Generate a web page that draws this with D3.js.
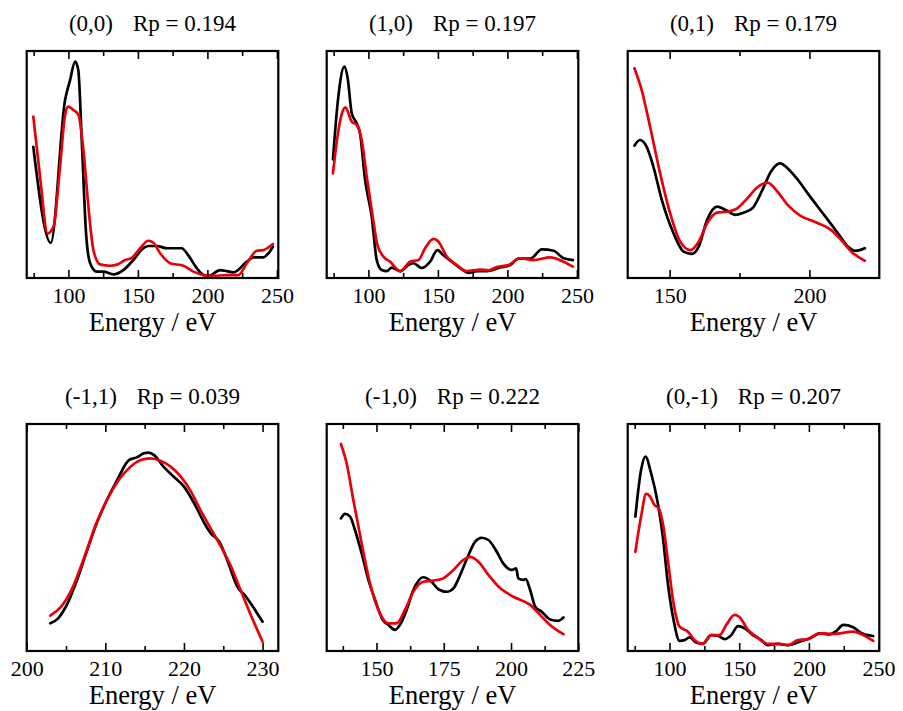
<!DOCTYPE html>
<html>
<head>
<meta charset="utf-8">
<script src="https://cdnjs.cloudflare.com/ajax/libs/d3/7.8.5/d3.min.js"></script>
<style>
  html, body { margin: 0; padding: 0; background: #fff; }
  svg { display: block; }
  text { font-family: "Liberation Serif", "Times New Roman", serif; fill: #000; }
</style>
</head>
<body>
<svg id="chart" width="903" height="711"></svg>
<script>
// ---------- DATA ----------
const panelNames = ["(0,0)", "(1,0)", "(0,1)", "(-1,1)", "(-1,0)", "(0,-1)"];
const rpValues = ["0.194", "0.197", "0.179", "0.039", "0.222", "0.207"];
const xDomains = [[70, 251], [70, 251], [135, 225], [200, 232], [131.5, 225], [70, 250.5]];
const majorTicks = [
  [100, 150, 200, 250], [100, 150, 200, 250], [150, 200],
  [200, 210, 220, 230], [150, 175, 200, 225], [100, 150, 200, 250]
];
const minorTicks = [
  [75, 125, 175, 225], [75, 125, 175, 225], [175],
  [205, 215, 225], [137.5, 162.5, 187.5, 212.5], [75, 125, 175, 225]
];
const xLabel = "Energy / eV";

// (0,0)
const exp00E = [74.75,87.3,97.6,101.2,104.8,107.1,109.6,112.7,115.6,120.4,125.2,132.4,139.5,146.7,153.9,157.5,163.6,170.8,181.6,185.2,192.4,197.2,200.8,209.2,214,218.7,228.4,233.1,240.3,243.9,247.1];
const exp00I = [0.578,0.155,0.784,0.872,0.953,0.916,0.608,0.198,0.066,0.028,0.028,0.016,0.035,0.079,0.131,0.141,0.141,0.131,0.131,0.109,0.043,0.013,0.009,0.035,0.030,0.025,0.072,0.091,0.091,0.109,0.138];
const th00E = [74.75,79.6,85.1,89.2,94,97.6,100,103.6,107.2,110.8,114.4,118,122.8,130,135.4,140.8,145.6,151.6,157.5,161.1,166,173.2,182.8,190,197.2,204.4,214,222.3,228.4,235.6,240.4,243.9,247.1];
const th00I = [0.711,0.446,0.197,0.226,0.490,0.718,0.755,0.740,0.718,0.564,0.314,0.123,0.060,0.054,0.060,0.079,0.089,0.131,0.164,0.155,0.109,0.065,0.054,0.028,0.013,0.009,0.013,0.013,0.065,0.120,0.123,0.135,0.150];

// (1,0)
const exp10E = [74.5,78.1,82.7,85.1,88,91.6,94,97.6,102.4,106,109.6,113.2,116.8,122.8,128.8,132.4,138.4,144.4,149.6,154,160,166,172,178,185.2,194.8,202,208,216.4,224.8,233.2,240.4,247.1];
const exp10I = [0.523,0.784,0.931,0.880,0.726,0.681,0.637,0.432,0.270,0.079,0.035,0.030,0.046,0.030,0.057,0.065,0.044,0.072,0.123,0.100,0.072,0.044,0.023,0.030,0.030,0.046,0.057,0.085,0.085,0.126,0.120,0.087,0.079];
const th10E = [74.5,78.1,81,83.4,88,91.6,95.2,98.8,103.1,106.5,110.8,115.6,122.8,130,136,140.8,146.8,150.4,156.4,163.6,170.8,180.4,186.4,192.4,200.8,209.2,218.8,230.8,240.4,247.1];
const th10I = [0.461,0.637,0.726,0.752,0.689,0.674,0.608,0.446,0.270,0.145,0.094,0.072,0.030,0.072,0.079,0.131,0.172,0.160,0.094,0.057,0.030,0.037,0.034,0.048,0.057,0.087,0.079,0.091,0.072,0.050];

// (0,1)
const exp01E = [137.4,139.4,141.8,144.2,147.2,151.4,155,158,160.4,163.4,167,170,173.6,176.6,179.6,183.2,186.2,189.5,192.8,196.4,199.4,203,206.6,210.2,213.8,216.2,218,219.8];
const exp01I = [0.583,0.608,0.578,0.490,0.344,0.197,0.116,0.106,0.138,0.256,0.314,0.300,0.278,0.289,0.307,0.388,0.468,0.505,0.476,0.424,0.373,0.314,0.256,0.197,0.138,0.120,0.123,0.131];
const th01E = [137.4,140,143,146.6,150.2,153.8,157.4,160.4,163.4,167,170.6,174.2,177.8,181.4,185,188.6,192.2,197,201.8,207.8,211.4,215,219.8];
const th01I = [0.924,0.828,0.667,0.461,0.285,0.160,0.123,0.160,0.241,0.288,0.292,0.307,0.351,0.400,0.420,0.380,0.322,0.273,0.248,0.211,0.167,0.116,0.076];

// (-1,1)
const expM11E = [203,204,205.1,206.4,207.7,208.9,210.2,211.5,213,214,214.9,215.5,216.2,217.4,218.7,220,221.3,222.6,223.4,224.5,225.5,226.8,227.9,228.9,230];
const expM11I = [0.122,0.144,0.203,0.313,0.445,0.563,0.665,0.753,0.841,0.853,0.871,0.874,0.863,0.812,0.768,0.724,0.651,0.563,0.519,0.481,0.401,0.283,0.239,0.188,0.129];
const thM11E = [203,204.3,205.7,207.2,208.7,210.2,211.7,213.2,214.5,215.7,217,218.3,219.6,220.9,222.1,223.4,224.7,226,227.2,228.5,230];
const thM11I = [0.156,0.192,0.269,0.401,0.548,0.665,0.753,0.812,0.841,0.849,0.838,0.812,0.768,0.702,0.621,0.540,0.460,0.371,0.269,0.159,0.041];

// (-1,0)
const expM10E = [136.8,138.3,140.2,142,144.5,147,149.5,152.3,154.4,156.9,158.7,161.2,163.7,167.4,170.5,173,176.1,178.6,181.1,184.2,186.6,189.1,191.6,194.7,197.1,200.3,201.9,202.7,204.6,205.5,207.1,209,211.4,214.5,217.6,219.5];
const expM10I = [0.584,0.604,0.592,0.533,0.430,0.313,0.225,0.137,0.115,0.093,0.115,0.181,0.269,0.325,0.305,0.272,0.261,0.276,0.335,0.423,0.481,0.499,0.489,0.437,0.386,0.357,0.364,0.320,0.313,0.317,0.269,0.195,0.173,0.139,0.133,0.148];
const thM10E = [136.8,138.9,141.4,144.5,147.6,151.3,154.4,157.5,160.6,163.7,167.4,171.1,174.8,178.6,182.3,184.8,187.9,191.6,196,200.9,207.1,210.8,214.5,219.5];
const thM10I = [0.912,0.827,0.665,0.474,0.298,0.166,0.122,0.122,0.181,0.261,0.305,0.310,0.320,0.357,0.401,0.415,0.393,0.335,0.276,0.239,0.203,0.159,0.115,0.074];

// (0,-1)
const exp0M1E = [75.5,79.6,82.7,86.8,91.6,95.2,98.8,102.9,107.2,110.8,114.4,119.2,123.9,129.9,134.7,139.5,144.3,149.1,153.9,159.9,165.9,170.6,177.8,185,193.4,200.6,207.8,215,219.8,224.6,231.8,237.8,246.1];
const exp0M1I = [0.592,0.797,0.856,0.783,0.651,0.504,0.298,0.137,0.045,0.048,0.060,0.037,0.031,0.070,0.067,0.052,0.070,0.110,0.100,0.070,0.048,0.026,0.031,0.026,0.041,0.056,0.078,0.073,0.089,0.115,0.105,0.078,0.066];
const th0M1E = [75.5,79.6,83.2,86.1,89.2,92.3,95.6,98.8,102.9,107.2,113.2,118,123.4,129.9,135.9,140.7,146.7,150.3,156.3,162.3,170.6,179,185,192.2,199.4,207.8,217.4,231.8,239,246.1];
const th0M1I = [0.437,0.592,0.692,0.680,0.643,0.628,0.548,0.401,0.210,0.107,0.085,0.048,0.031,0.070,0.070,0.115,0.159,0.149,0.093,0.063,0.031,0.031,0.026,0.048,0.052,0.078,0.075,0.085,0.070,0.045];

const expE = [exp00E, exp10E, exp01E, expM11E, expM10E, exp0M1E];
const expI = [exp00I, exp10I, exp01I, expM11I, expM10I, exp0M1I];
const thE  = [th00E, th10E, th01E, thM11E, thM10E, th0M1E];
const thI  = [th00I, th10I, th01I, thM11I, thM10I, th0M1I];

// ---------- LAYOUT ----------
const colX = [[26.7, 278.3], [326.7, 578.3], [627.7, 879.3]];
const rowY = [[51, 278], [424, 651]];

const svg = d3.select("#chart");

panelNames.forEach((name, i) => {
  const c = i % 3, r = Math.floor(i / 3);
  const [x0, x1] = colX[c];
  const [y0, y1] = rowY[r];
  const x = d3.scaleLinear().domain(xDomains[i]).range([x0, x1]);
  const y = d3.scaleLinear().domain([0, 1]).range([y1, y0]);
  const g = svg.append("g");

  const clipId = "clip" + i;
  g.append("clipPath").attr("id", clipId).append("rect")
    .attr("x", x0).attr("y", y0).attr("width", x1 - x0).attr("height", y1 - y0);

  const line = d3.line().x(d => x(d[0])).y(d => y(d[1])).curve(d3.curveMonotoneX);
  const expData = expE[i].map((e, k) => [e, expI[i][k]]);
  const thData = thE[i].map((e, k) => [e, thI[i][k]]);

  const plot = g.append("g").attr("clip-path", `url(#${clipId})`);
  plot.append("path").datum(expData).attr("d", line)
    .attr("fill", "none").attr("stroke", "#000").attr("stroke-width", 2.7)
    .attr("stroke-linejoin", "round").attr("stroke-linecap", "round");
  plot.append("path").datum(thData).attr("d", line)
    .attr("fill", "none").attr("stroke", "#e8000b").attr("stroke-width", 2.7)
    .attr("stroke-linejoin", "round").attr("stroke-linecap", "round");

  // bottom axis: major (labelled) ticks
  const axB = g.append("g").attr("transform", `translate(0,${y1})`)
    .call(d3.axisBottom(x).tickValues(majorTicks[i]).tickSizeInner(-8).tickSizeOuter(0).tickPadding(9.5).tickFormat(d3.format("d")));
  axB.select(".domain").remove();
  axB.selectAll("line").attr("stroke", "#000").attr("stroke-width", 1.6);
  axB.selectAll("text").attr("font-size", 22).style("font-family", '"Liberation Serif", serif');
  // bottom minor
  const axBm = g.append("g").attr("transform", `translate(0,${y1})`)
    .call(d3.axisBottom(x).tickValues(minorTicks[i]).tickSizeInner(-5).tickSizeOuter(0).tickFormat(""));
  axBm.select(".domain").remove();
  axBm.selectAll("line").attr("stroke", "#000").attr("stroke-width", 1.6);
  // top axis major / minor
  const axT = g.append("g").attr("transform", `translate(0,${y0})`)
    .call(d3.axisTop(x).tickValues(majorTicks[i]).tickSizeInner(-8).tickSizeOuter(0).tickFormat(""));
  axT.select(".domain").remove();
  axT.selectAll("line").attr("stroke", "#000").attr("stroke-width", 1.6);
  const axTm = g.append("g").attr("transform", `translate(0,${y0})`)
    .call(d3.axisTop(x).tickValues(minorTicks[i]).tickSizeInner(-5).tickSizeOuter(0).tickFormat(""));
  axTm.select(".domain").remove();
  axTm.selectAll("line").attr("stroke", "#000").attr("stroke-width", 1.6);

  // frame
  g.append("rect").attr("x", x0).attr("y", y0).attr("width", x1 - x0).attr("height", y1 - y0)
    .attr("fill", "none").attr("stroke", "#000").attr("stroke-width", 2.2);

  // title
  const cx = (x0 + x1) / 2;
  const t = g.append("text").attr("x", cx).attr("y", y0 - 20.5)
    .attr("text-anchor", "middle").attr("font-size", 23);
  t.append("tspan").text(name);
  t.append("tspan").attr("dx", 20).text("Rp = " + rpValues[i]);

  // x label
  g.append("text").attr("x", cx).attr("y", y1 + 53)
    .attr("text-anchor", "middle").attr("font-size", 26.5).text(xLabel);
});
</script>
</body>
</html>
